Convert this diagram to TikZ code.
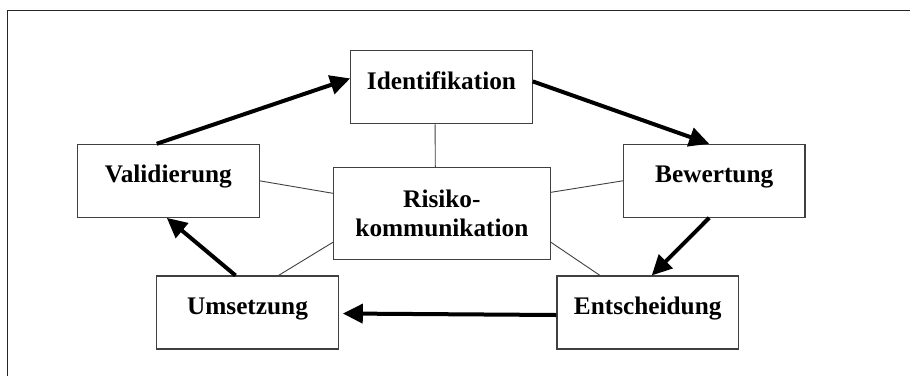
\documentclass[tikz,border=0pt]{standalone}
\usepackage{fontspec}
\setmainfont{Liberation Serif}
\usepackage{tikz}
\usetikzlibrary{arrows.meta}

\begin{document}
\begin{tikzpicture}[x=1pt,y=-1pt]
\tikzstyle{box}=[rectangle,draw=black!75,line width=1.1pt,inner sep=0pt,minimum width=181.5pt,minimum height=73pt,font=\fontsize{25.3}{28.4}\selectfont\bfseries]
\tikzstyle{step_box}=[box,text height=17.5pt,text depth=14pt]
\tikzstyle{hub}=[box,minimum width=217pt,minimum height=92pt,align=center]
\tikzstyle{flow}=[line width=4pt,-{Triangle[length=20pt,width=19pt]}]
\tikzstyle{link}=[line width=0.9pt,black!75]
\useasboundingbox (0,0) rectangle (910,376);
\draw[line width=1.5pt,black!85] (910,10.5) -- (7.5,10.5) -- (7.5,376);
\node[hub] (K_0) at (441.9,213.3) {Risiko-\\kommunikation};
\node[step_box] (K_1) at (441.5,87.4) {Identifikation};
\node[step_box] (K_2) at (714.2,180.8) {Bewertung};
\node[step_box] (K_3) at (647.7,312.5) {Entscheidung};
\node[step_box] (K_4) at (247.5,312.5) {Umsetzung};
\node[step_box] (K_5) at (168.3,180.8) {Validierung};
\draw[flow] ([xshift=-11.6pt]K_5.north) -- ([yshift=9pt]K_1.west);
\draw[flow] ([yshift=6pt]K_1.east) -- ([xshift=-5pt]K_2.north);
\draw[flow] ([xshift=-5pt]K_2.south) -- ([xshift=4pt]K_3.north);
\draw[flow] ([yshift=-2.5pt]K_3.west) -- ([xshift=4pt,yshift=-1pt]K_4.east);
\draw[flow] ([xshift=-12pt]K_4.north) -- ([xshift=-1.5pt]K_5.south);
\draw[link] ([xshift=-6.4pt]K_1.south) -- ([xshift=-6.6pt]K_0.north);
\draw[link] (K_5.east) -- ([yshift=20pt]K_0.west);
\draw[link] (K_2.west) -- ([yshift=21pt]K_0.east);
\draw[link] ([xshift=31pt]K_4.north) -- ([yshift=-29pt]K_0.west);
\draw[link] ([xshift=-47.7pt]K_3.north) -- ([yshift=-29pt]K_0.east);
\end{tikzpicture}
\end{document}
